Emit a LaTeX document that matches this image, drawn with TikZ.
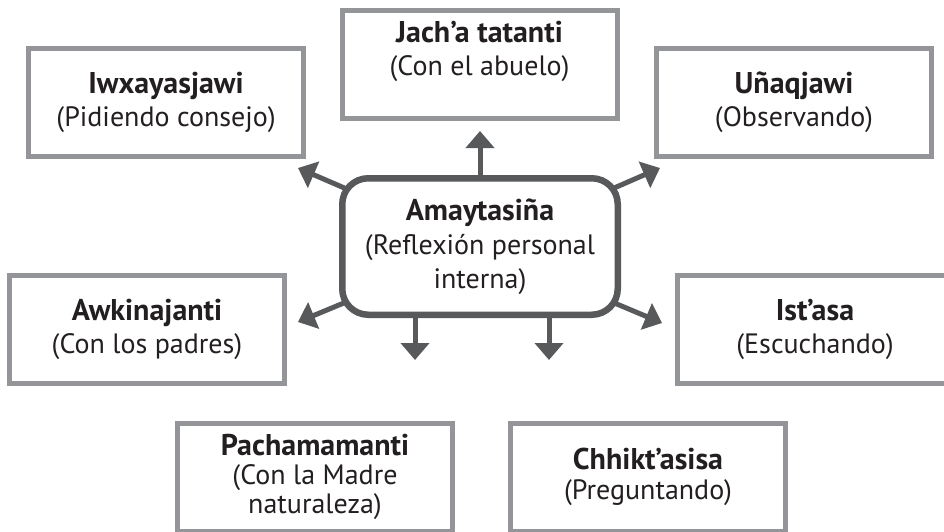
\documentclass[tikz,border=0pt]{standalone}
\usepackage{fontspec}
\setmainfont{PT Sans}
\usetikzlibrary{arrows.meta}
\usetikzlibrary{backgrounds}
\definecolor{boxgray}{HTML}{939598}
\definecolor{spokegray}{HTML}{58595B}
\definecolor{inkblack}{HTML}{231F20}
\newcommand{\ttl}[1]{{\fontsize{30}{33}\selectfont\bfseries #1}}

\begin{document}
\begin{tikzpicture}[x=1pt,y=-1pt,
  box/.style={draw=boxgray,line width=5pt,fill=white,minimum width=275pt,minimum height=108pt,
    align=center,text=inkblack,font=\fontsize{28}{33}\selectfont},
  hub/.style={draw=spokegray,line width=6.5pt,rounded corners=26pt,fill=white,minimum width=275.5pt,
    minimum height=136.5pt,align=center,text=inkblack,font=\fontsize{28}{34}\selectfont},
  spoke/.style={draw=spokegray,line width=5pt,-{Triangle[length=17pt,width=28pt]}}]
\useasboundingbox (0,0) rectangle (944,532);
\node (amay) [hub] at (480,246.5) {\ttl{Amaytasiña}\\(Reflexión personal\\interna)};
\node (iwxa) [box] at (166,102.5) {\ttl{Iwxayasjawi}\\(Pidiendo consejo)};
\node (jach) [box] at (479.5,65) {\ttl{Jach’a tatanti}\\(Con el abuelo)\\\mbox{}};
\node (unaq) [box] at (794,102.5) {\ttl{Uñaqjawi}\\(Observando)};
\node (awki) [box] at (147,329.5) {\ttl{Awkinajanti}\\(Con los padres)};
\node (ista) [box] at (815,329.5) {\ttl{Ist’asa}\\(Escuchando)};
\node (pach) [box,font=\fontsize{28}{29}\selectfont] at (315,477) {\ttl{Pachamamanti}\\(Con la Madre\\naturaleza)};
\node (chhi) [box,font=\fontsize{28}{30}\selectfont] at (648,477) {\ttl{Chhikt’asisa}\\(Preguntando)};
% free ends of the arrows
\coordinate (t-up) at (480,131);
\coordinate (t-ul) at (298,168);
\coordinate (t-ur) at (660,168);
\coordinate (t-ll) at (298,322);
\coordinate (t-lr) at (662,323);
\coordinate (t-d1) at (415,360);
\coordinate (t-d2) at (549,360);
\begin{scope}[on background layer]
\draw [spoke] (amay.center) -- (t-up);
\draw [spoke] (amay.center) -- (t-ul);
\draw [spoke] (amay.center) -- (t-ur);
\draw [spoke] (amay.center) -- (t-ll);
\draw [spoke] (amay.center) -- (t-lr);
\draw [spoke] (amay.center -| t-d1) -- (t-d1);
\draw [spoke] (amay.center -| t-d2) -- (t-d2);
\end{scope}
\end{tikzpicture}
\end{document}
